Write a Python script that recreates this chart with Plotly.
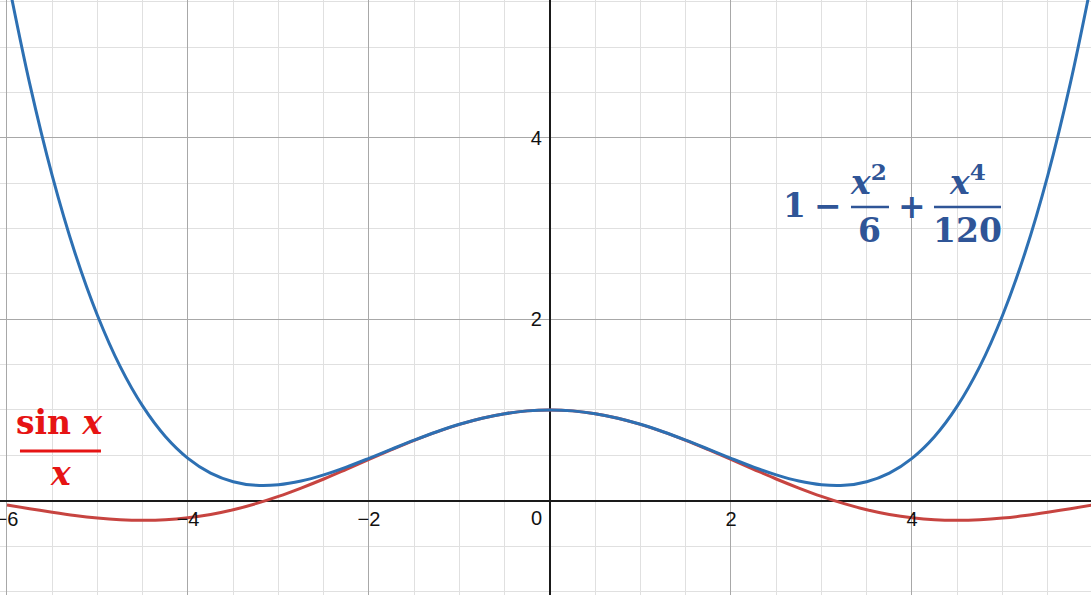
import plotly.graph_objects as go

# x positions read along the horizontal axis
x_vals = [-6.0, -5.75, -5.5, -5.25, -5.0, -4.75, -4.5, -4.25, -4.0, -3.75, -3.5, -3.25,
          -3.0, -2.75, -2.5, -2.25, -2.0, -1.75, -1.5, -1.25, -1.0, -0.75, -0.5, -0.25,
          0.0, 0.25, 0.5, 0.75, 1.0, 1.25, 1.5, 1.75, 2.0, 2.25, 2.5, 2.75,
          3.0, 3.25, 3.5, 3.75, 4.0, 4.25, 4.5, 4.75, 5.0, 5.25, 5.5, 5.75, 6.0]

# red curve: sin x / x
sinc_half = [1.0, 0.990, 0.959, 0.909, 0.841, 0.759, 0.665, 0.562, 0.455, 0.346, 0.239, 0.139,
             0.047, -0.033, -0.100, -0.152, -0.189, -0.211, -0.217, -0.210, -0.192, -0.164,
             -0.128, -0.088, -0.047]
sinc_vals = sinc_half[::-1] + sinc_half[1:]

# blue curve: 1 - x^2/6 + x^4/120
poly_half = [1.0, 0.990, 0.959, 0.909, 0.842, 0.760, 0.667, 0.568, 0.467, 0.370, 0.284, 0.216,
             0.175, 0.169, 0.209, 0.304, 0.467, 0.708, 1.042, 1.481, 2.042, 2.736, 3.584,
             4.603, 5.800]
poly_vals = poly_half[::-1] + poly_half[1:]

x_ticks = [-6, -4, -2, 2, 4, 6]
x_tick_text = ["\u22126", "\u22124", "\u22122", "2", "4", "6"]
y_ticks = [2, 4]
y_tick_text = ["2", "4"]

X_RANGE = [-6.077, 5.978]
Y_RANGE = [-1.040, 5.520]

RED = "#c74440"
BLUE = "#2d70b3"
RED_TXT = "#e61414"
BLUE_TXT = "#2f5597"
MATH_FONT = "DejaVu Serif"

fig = go.Figure()
fig.add_trace(go.Scatter(x=x_vals, y=sinc_vals, mode="lines", line_shape="spline",
                         line=dict(color=RED, width=3), hoverinfo="skip"))
fig.add_trace(go.Scatter(x=x_vals, y=poly_vals, mode="lines", line_shape="spline",
                         line=dict(color=BLUE, width=3), hoverinfo="skip"))

def px_x(p):
    return (p - 550) / 90.5

def px_y(p):
    return (500.7 - p) / 90.7

annotations = []

def txt(text, px, py, color, size, xanchor="center"):
    annotations.append(dict(x=px_x(px), y=px_y(py), xref="x", yref="y", text=text,
                            showarrow=False, xanchor=xanchor, yanchor="middle",
                            font=dict(family=MATH_FONT, size=size, color=color)))

shapes = []

def bar(px0, px1, py, color, width):
    shapes.append(dict(type="line", xref="x", yref="y", x0=px_x(px0), x1=px_x(px1),
                       y0=px_y(py), y1=px_y(py), line=dict(color=color, width=width)))

# red label  sin x / x
txt("<b>sin <i>x</i></b>", 60, 423, RED_TXT, 33)
bar(20, 101, 451, RED_TXT, 3)
txt("<b><i>x</i></b>", 61, 474, RED_TXT, 33)

# blue label  1 - x^2/6 + x^4/120
txt("<b>1</b>", 795, 206, BLUE_TXT, 33)
txt("<b>\u2212</b>", 828, 206, BLUE_TXT, 33)
txt("<b><i>x</i><sup>2</sup></b>", 869, 180, BLUE_TXT, 33)
bar(851, 889, 207, BLUE_TXT, 2.5)
txt("<b>6</b>", 870, 231, BLUE_TXT, 33)
txt("<b>+</b>", 912, 207, BLUE_TXT, 33)
txt("<b><i>x</i><sup>4</sup></b>", 968, 180, BLUE_TXT, 33)
bar(934, 1001, 207, BLUE_TXT, 2.5)
txt("<b>120</b>", 968, 231, BLUE_TXT, 33)

# origin label
annotations.append(dict(x=px_x(544), y=px_y(518), xref="x", yref="y", text="0",
                        showarrow=False, xanchor="right", yanchor="middle",
                        font=dict(family="Arial", size=20, color="#111111")))

axis_common = dict(showgrid=True, gridcolor="#a8a8a8", gridwidth=1,
                   zeroline=True, zerolinecolor="#1a1a1a", zerolinewidth=2,
                   showline=False, ticks="outside", tickcolor="rgba(0,0,0,0)",
                   ticklabeloverflow="allow",
                   automargin=False, fixedrange=True,
                   tickfont=dict(family="Arial", size=20, color="#111111"))

fig.update_layout(
    width=1091, height=595,
    margin=dict(l=0, r=0, t=0, b=0),
    paper_bgcolor="white", plot_bgcolor="white",
    showlegend=False,
    xaxis=dict(range=X_RANGE, tickmode="array", tickvals=x_ticks, ticktext=x_tick_text,
               anchor="free", position=(0 - Y_RANGE[0]) / (Y_RANGE[1] - Y_RANGE[0]),
               side="bottom", ticklen=0,
               minor=dict(tickmode="linear", tick0=0, dtick=0.5, showgrid=True,
                          gridcolor="#e0e0e0", gridwidth=1),
               **axis_common),
    yaxis=dict(range=Y_RANGE, tickmode="array", tickvals=y_ticks, ticktext=y_tick_text,
               anchor="free", position=(0 - X_RANGE[0]) / (X_RANGE[1] - X_RANGE[0]),
               side="left", ticklen=4,
               minor=dict(tickmode="linear", tick0=0, dtick=0.5, showgrid=True,
                          gridcolor="#e0e0e0", gridwidth=1),
               **axis_common),
    annotations=annotations,
    shapes=shapes,
)

fig.write_html("out.html", config={"displayModeBar": False},
               post_script="document.body.style.margin='0';document.body.style.overflow='hidden';")
